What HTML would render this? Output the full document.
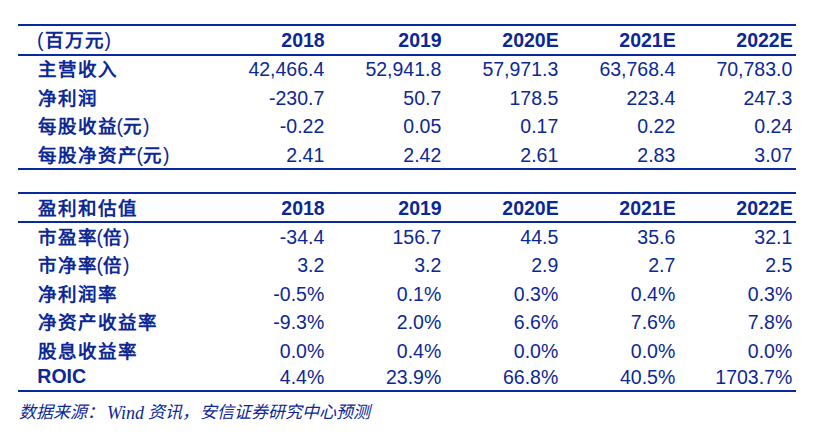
<!DOCTYPE html>
<html lang="zh-CN"><head><meta charset="utf-8"><style>
html,body{margin:0;padding:0;background:#fff;}
body{width:820px;height:434px;position:relative;overflow:hidden;font-family:"Liberation Sans",sans-serif;color:#0c2896;font-size:19.5px;}
.l{position:absolute;left:18px;width:778px;height:2px;background:#0a28a0;}
.r{position:absolute;height:24px;line-height:24px;white-space:nowrap;}
.lab{position:absolute;left:38px;height:24px;line-height:24px;white-space:nowrap;font-weight:bold;}
.v{position:absolute;height:24px;line-height:24px;white-space:nowrap;text-align:right;width:140px;}
.b{font-weight:bold;}
.z{font-size:18.5px;letter-spacing:1px;font-weight:900;}
.p{font-weight:normal;}
.po{font-weight:normal;margin-left:-1.5px;}
.fz{position:absolute;font-family:"Liberation Serif",serif;font-style:italic;font-weight:300;font-size:17px;letter-spacing:0px;line-height:20px;height:20px;white-space:nowrap;}
.fw{position:absolute;font-family:"Liberation Serif",serif;font-style:italic;font-size:18px;line-height:20px;height:20px;white-space:nowrap;}
</style></head><body>

<div class="l" style="top:24px"></div>
<div class="l" style="top:54px"></div>
<div class="l" style="top:168px"></div>
<div class="l" style="top:192px"></div>
<div class="l" style="top:221px"></div>
<div class="l" style="top:390px"></div>
<div class="lab" style="top:28.24px"><span class="p" style="position:relative;left:-1px">(</span><span class="z">百万元</span><span class="p">)</span></div>
<div class="v b" style="top:28.24px;left:184.7px">2018</div>
<div class="v b" style="top:28.24px;left:301.7px">2019</div>
<div class="v b" style="top:28.24px;left:418.7px">2020E</div>
<div class="v b" style="top:28.24px;left:535.7px">2021E</div>
<div class="v b" style="top:28.24px;left:652.7px">2022E</div>
<div class="lab" style="top:57.24px"><span class="z">主营收入</span></div>
<div class="v" style="top:57.24px;left:184.3px">42,466.4</div>
<div class="v" style="top:57.24px;left:301.3px">52,941.8</div>
<div class="v" style="top:57.24px;left:418.3px">57,971.3</div>
<div class="v" style="top:57.24px;left:535.3px">63,768.4</div>
<div class="v" style="top:57.24px;left:652.3px">70,783.0</div>
<div class="lab" style="top:86.24px"><span class="z">净利润</span></div>
<div class="v" style="top:86.24px;left:184.3px">-230.7</div>
<div class="v" style="top:86.24px;left:301.3px">50.7</div>
<div class="v" style="top:86.24px;left:418.3px">178.5</div>
<div class="v" style="top:86.24px;left:535.3px">223.4</div>
<div class="v" style="top:86.24px;left:652.3px">247.3</div>
<div class="lab" style="top:114.24px"><span class="z">每股收益</span><span class="po">(</span><span class="z">元</span><span class="p">)</span></div>
<div class="v" style="top:114.24px;left:184.3px">-0.22</div>
<div class="v" style="top:114.24px;left:301.3px">0.05</div>
<div class="v" style="top:114.24px;left:418.3px">0.17</div>
<div class="v" style="top:114.24px;left:535.3px">0.22</div>
<div class="v" style="top:114.24px;left:652.3px">0.24</div>
<div class="lab" style="top:143.24px"><span class="z">每股净资产</span><span class="po">(</span><span class="z">元</span><span class="p">)</span></div>
<div class="v" style="top:143.24px;left:184.3px">2.41</div>
<div class="v" style="top:143.24px;left:301.3px">2.42</div>
<div class="v" style="top:143.24px;left:418.3px">2.61</div>
<div class="v" style="top:143.24px;left:535.3px">2.83</div>
<div class="v" style="top:143.24px;left:652.3px">3.07</div>
<div class="lab" style="top:196.24px"><span class="z">盈利和估值</span></div>
<div class="v b" style="top:196.24px;left:184.7px">2018</div>
<div class="v b" style="top:196.24px;left:301.7px">2019</div>
<div class="v b" style="top:196.24px;left:418.7px">2020E</div>
<div class="v b" style="top:196.24px;left:535.7px">2021E</div>
<div class="v b" style="top:196.24px;left:652.7px">2022E</div>
<div class="lab" style="top:225.24px"><span class="z">市盈率</span><span class="po">(</span><span class="z">倍</span><span class="p">)</span></div>
<div class="v" style="top:225.24px;left:184.3px">-34.4</div>
<div class="v" style="top:225.24px;left:301.3px">156.7</div>
<div class="v" style="top:225.24px;left:418.3px">44.5</div>
<div class="v" style="top:225.24px;left:535.3px">35.6</div>
<div class="v" style="top:225.24px;left:652.3px">32.1</div>
<div class="lab" style="top:253.24px"><span class="z">市净率</span><span class="po">(</span><span class="z">倍</span><span class="p">)</span></div>
<div class="v" style="top:253.24px;left:184.3px">3.2</div>
<div class="v" style="top:253.24px;left:301.3px">3.2</div>
<div class="v" style="top:253.24px;left:418.3px">2.9</div>
<div class="v" style="top:253.24px;left:535.3px">2.7</div>
<div class="v" style="top:253.24px;left:652.3px">2.5</div>
<div class="lab" style="top:282.24px"><span class="z">净利润率</span></div>
<div class="v" style="top:282.24px;left:184.3px">-0.5%</div>
<div class="v" style="top:282.24px;left:301.3px">0.1%</div>
<div class="v" style="top:282.24px;left:418.3px">0.3%</div>
<div class="v" style="top:282.24px;left:535.3px">0.4%</div>
<div class="v" style="top:282.24px;left:652.3px">0.3%</div>
<div class="lab" style="top:310.24px"><span class="z">净资产收益率</span></div>
<div class="v" style="top:310.24px;left:184.3px">-9.3%</div>
<div class="v" style="top:310.24px;left:301.3px">2.0%</div>
<div class="v" style="top:310.24px;left:418.3px">6.6%</div>
<div class="v" style="top:310.24px;left:535.3px">7.6%</div>
<div class="v" style="top:310.24px;left:652.3px">7.8%</div>
<div class="lab" style="top:339.24px"><span class="z">股息收益率</span></div>
<div class="v" style="top:339.24px;left:184.3px">0.0%</div>
<div class="v" style="top:339.24px;left:301.3px">0.4%</div>
<div class="v" style="top:339.24px;left:418.3px">0.0%</div>
<div class="v" style="top:339.24px;left:535.3px">0.0%</div>
<div class="v" style="top:339.24px;left:652.3px">0.0%</div>
<div class="lab" style="top:364.24px;left:37.3px">ROIC</div>
<div class="v" style="top:365.24px;left:184.3px">4.4%</div>
<div class="v" style="top:365.24px;left:301.3px">23.9%</div>
<div class="v" style="top:365.24px;left:418.3px">66.8%</div>
<div class="v" style="top:365.24px;left:535.3px">40.5%</div>
<div class="v" style="top:365.24px;left:652.3px">1703.7%</div>
<div class="fz" style="left:19px;top:403px;">数据来源</div>
<div class="fz" style="left:87px;top:403px;">：</div>
<div class="fw" style="left:107px;top:403px;">Wind</div>
<div class="fz" style="left:148px;top:403px;">资讯</div>
<div class="fz" style="left:182px;top:403px;">，</div>
<div class="fz" style="left:200px;top:403px;">安信证券研究中心预测</div>
</body></html>
